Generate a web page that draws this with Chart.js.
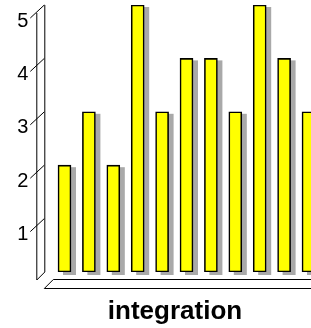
<!DOCTYPE html>
<html>
<head>
<meta charset="utf-8">
<script src="https://cdn.jsdelivr.net/npm/chart.js@4/dist/chart.umd.min.js"></script>
<style>
html,body{margin:0;padding:0;background:#fff;overflow:hidden;}
#wrap{position:relative;width:330px;height:328px;}
</style>
</head>
<body>
<div id="wrap"><canvas id="c"></canvas></div>
<script>
const categories = ["1","2","3","4","5","6","7","8","9","10","11"];
const values = [2,3,2,5,3,4,4,3,5,4,3];
const tickValues = [1,2,3,4,5];
const axisTitle = "integration";

const depth = 8;

const deco = {
  id: 'deco',
  beforeDatasetsDraw(chart) {
    const ctx = chart.ctx;
    const ys = chart.scales.y;
    const ca = chart.chartArea;
    const base = ys.getPixelForValue(0);
    const wx = ca.left - depth;
    ctx.save();
    ctx.strokeStyle = '#000';
    ctx.lineWidth = 1;
    // wall
    ctx.beginPath();
    ctx.moveTo(wx + 0.5, ys.getPixelForValue(5));
    ctx.lineTo(wx + 0.5, base);
    ctx.lineTo(wx - depth + 0.5, base + depth);
    ctx.lineTo(wx - depth + 0.5, ys.getPixelForValue(5) + depth);
    ctx.stroke();
    // ticks + labels
    ctx.font = '20px "Liberation Sans", Arial, sans-serif';
    ctx.fillStyle = '#000';
    ctx.textAlign = 'right';
    ctx.textBaseline = 'middle';
    tickValues.forEach(v => {
      const y = ys.getPixelForValue(v);
      ctx.beginPath();
      ctx.moveTo(wx - 14, y + 13);
      ctx.lineTo(wx, y);
      ctx.stroke();
      ctx.fillText(String(v), wx - 16, y + 16);
    });
    // floor
    const fy = base + 16;
    ctx.beginPath();
    ctx.moveTo(chart.width, fy + 0.5);
    ctx.lineTo(wx, fy + 0.5);
    ctx.lineTo(wx + depth + 1, fy - 9 + 0.5);
    ctx.lineTo(chart.width, fy - 9 + 0.5);
    ctx.stroke();
    // shadows
    const meta = chart.getDatasetMeta(0);
    ctx.fillStyle = '#a9a9a9';
    meta.data.forEach(el => {
      const p = el.getProps(['x','y','base','width'], true);
      ctx.fillRect(p.x - p.width/2 + 5, p.y + 2, p.width, p.base - p.y + 1);
    });
    // title
    ctx.font = 'bold 26px "Liberation Sans", Arial, sans-serif';
    ctx.textAlign = 'center';
    ctx.textBaseline = 'alphabetic';
    ctx.fillStyle = '#000';
    ctx.fillText(axisTitle, 175, 319);
    ctx.restore();
  }
};

new Chart(document.getElementById('c'), {
  type: 'bar',
  data: {
    labels: categories,
    datasets: [{
      data: values,
      backgroundColor: '#ffff00',
      borderColor: '#000',
      borderWidth: 1.6,
      barThickness: 13,
      borderSkipped: false
    }]
  },
  options: {
    responsive: true,
    maintainAspectRatio: false,
    animation: false,
    layout: { padding: { top: 5, bottom: 56, left: 52.3, right: 9.3 } },
    plugins: { legend: { display: false }, tooltip: { enabled: false }, title: { display: false } },
    scales: {
      x: { display: false, offset: true },
      y: { display: false, min: 0, max: 5 }
    }
  },
  plugins: [deco]
});
</script>
</body>
</html>
